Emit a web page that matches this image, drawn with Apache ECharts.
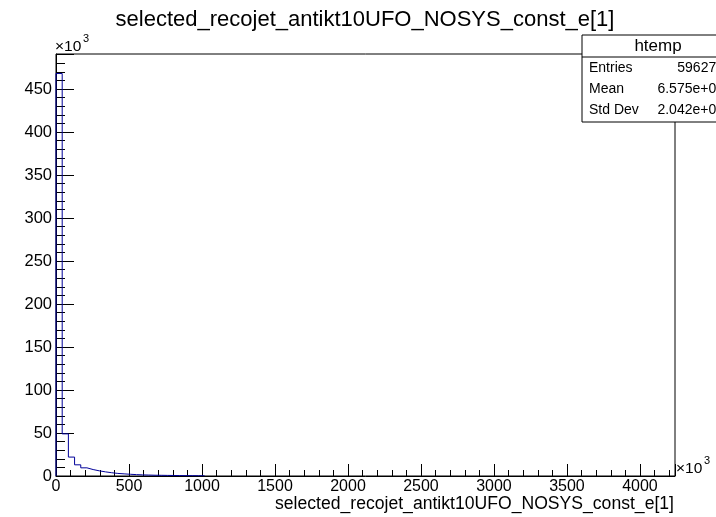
<!DOCTYPE html>
<html><head><meta charset="utf-8">
<script src="https://cdn.jsdelivr.net/npm/echarts@6/dist/echarts.min.js"></script>
<style>html,body{margin:0;padding:0;background:#fff}#c{width:716px;height:517px}</style>
</head><body><div id="c"></div>
<script>
// Histogram: 100 bins over [0, 4240] (x10^3); only non-empty bins listed
var xMin = 0, xMax = 4240, nBins = 100;
var binCounts = [468, 49, 22, 13, 9.5, 7.5, 6, 4.8, 3.8, 3.0, 2.5, 2.0, 1.6, 1.3, 1.1, 0.9, 0.8, 0.7, 0.6, 0.5, 0.45, 0.4, 0.35, 0.3]; // x10^3 entries
var xTicks = [0, 500, 1000, 1500, 2000, 2500, 3000, 3500, 4000];
var yTicks = [0, 50, 100, 150, 200, 250, 300, 350, 400, 450];
var statsLabels = ['Entries', 'Mean', 'Std Dev'];
var statsValues = ['596271', '6.575e+04', '2.042e+05'];
var title = 'selected_recojet_antikt10UFO_NOSYS_const_e[1]';
var xTitle = 'selected_recojet_antikt10UFO_NOSYS_const_e[1]';
var statsName = 'htemp';

var bw = (xMax - xMin) / nBins;
var pts = [[xMin, 0]];
for (var i = 0; i < binCounts.length; i++) pts.push([xMin + i * bw, binCounts[i]]);
pts.push([xMin + binCounts.length * bw, binCounts[binCounts.length - 1]]);
pts.push([xMin + binCounts.length * bw, 0]);

var font = 'Liberation Sans, Arial, Helvetica, sans-serif';
var chart = echarts.init(document.getElementById('c'), null, {renderer: 'canvas'});
var L = 56, T = 54, R = 675, B = 476;
var rowsY = [68, 89, 110];
var g = [
  {type: 'text', x: 365, y: 20, style: {text: title, font: '22px ' + font, fill: '#000', textAlign: 'center', textVerticalAlign: 'middle'}},
  {type: 'text', x: 674, y: 504, style: {text: xTitle, font: '17.6px ' + font, fill: '#000', textAlign: 'right', textVerticalAlign: 'middle'}},
  {type: 'text', x: 55, y: 47, style: {text: '×10', font: '15.5px ' + font, fill: '#000', textVerticalAlign: 'middle'}},
  {type: 'text', x: 83, y: 39, style: {text: '3', font: '11px ' + font, fill: '#000', textVerticalAlign: 'middle'}},
  {type: 'text', x: 676, y: 469, style: {text: '×10', font: '15.5px ' + font, fill: '#000', textVerticalAlign: 'middle'}},
  {type: 'text', x: 704, y: 461, style: {text: '3', font: '11px ' + font, fill: '#000', textVerticalAlign: 'middle'}},
  {type: 'rect', shape: {x: 582, y: 35, width: 153, height: 87}, style: {fill: '#fff', stroke: '#000', lineWidth: 1}, z: 10},
  {type: 'line', shape: {x1: 582, y1: 57, x2: 716, y2: 57}, style: {stroke: '#000', lineWidth: 1}, z: 11},
  {type: 'text', x: 658, y: 46, style: {text: statsName, font: '17px ' + font, fill: '#000', textAlign: 'center', textVerticalAlign: 'middle'}, z: 11}
];
for (var k = 0; k < statsLabels.length; k++) {
  g.push({type: 'text', x: 589, y: rowsY[k], style: {text: statsLabels[k], font: '14px ' + font, fill: '#000', textVerticalAlign: 'middle'}, z: 11});
  g.push({type: 'text', x: 724, y: rowsY[k], style: {text: statsValues[k], font: '14px ' + font, fill: '#000', textAlign: 'right', textVerticalAlign: 'middle'}, z: 11});
}
chart.setOption({
  animation: false,
  grid: {left: L, top: T, right: 716 - R, bottom: 517 - B, show: true, borderColor: '#000', borderWidth: 1, backgroundColor: 'transparent'},
  xAxis: {
    type: 'value', min: xMin, max: xMax, interval: 500,
    axisLine: {lineStyle: {color: '#000', width: 1}},
    axisTick: {inside: true, length: 12, lineStyle: {color: '#000'}},
    minorTick: {show: true, splitNumber: 5, length: 6, lineStyle: {color: '#000'}},
    axisLabel: {color: '#000', fontFamily: font, fontSize: 16, margin: 3, showMaxLabel: false,
      formatter: function (v) { return xTicks.indexOf(v) >= 0 ? String(v) : ''; }},
    splitLine: {show: false}
  },
  yAxis: {
    type: 'value', min: 0, max: 490.7, interval: 50,
    axisLine: {lineStyle: {color: '#000', width: 1}},
    axisTick: {inside: true, length: 18, lineStyle: {color: '#000'}},
    minorTick: {show: true, splitNumber: 5, length: 9, lineStyle: {color: '#000'}},
    axisLabel: {color: '#000', fontFamily: font, fontSize: 16.5, margin: 4, showMaxLabel: false,
      formatter: function (v) { return yTicks.indexOf(v) >= 0 ? String(v) : ''; }},
    splitLine: {show: false}
  },
  series: [{
    type: 'line', step: 'end', data: pts, symbol: 'none',
    lineStyle: {color: '#000099', width: 1}, z: 3
  }],
  graphic: g
});
</script></body></html>
